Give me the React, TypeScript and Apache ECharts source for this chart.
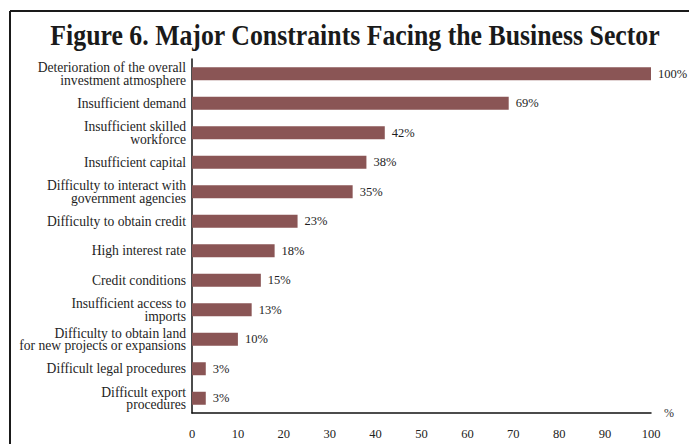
import React, { useEffect, useRef } from "react";
import * as echarts from "echarts";

const categories = [
  "Deterioration of the overall\ninvestment atmosphere",
  "Insufficient demand",
  "Insufficient skilled\nworkforce",
  "Insufficient capital",
  "Difficulty to interact with\ngovernment agencies",
  "Difficulty to obtain credit",
  "High interest rate",
  "Credit conditions",
  "Insufficient access to\nimports",
  "Difficulty to obtain land\nfor new projects or expansions",
  "Difficult legal procedures",
  "Difficult export\nprocedures",
];
const values = [100, 69, 42, 38, 35, 23, 18, 15, 13, 10, 3, 3];
const titleText = "Figure 6. Major Constraints Facing the Business Sector";
const axisName = "%";

const SERIF = "Liberation Serif";

export default function App() {
  const ref = useRef<HTMLDivElement>(null);
  useEffect(() => {
    if (!ref.current) return;
    const chart = echarts.init(ref.current, null, { renderer: "svg" });
    chart.setOption({
      animation: false,
      backgroundColor: "#ffffff",
      graphic: [
        {
          type: "line",
          shape: { x1: 10, y1: 11, x2: 689, y2: 11 },
          style: { stroke: "#1a1a1a", lineWidth: 2 },
        },
        {
          type: "line",
          shape: { x1: 10, y1: 11, x2: 10, y2: 444 },
          style: { stroke: "#1a1a1a", lineWidth: 2 },
        },
        {
          type: "text",
          x: 355,
          y: 35,
          scaleX: 0.86,
          style: {
            text: titleText,
            font: "bold 30px Liberation Serif",
            fill: "#1a1a1a",
            textAlign: "center",
            textVerticalAlign: "middle",
          },
        },
      ],
      grid: { left: 192, right: 38, top: 59, height: 354, containLabel: false },
      xAxis: {
        type: "value",
        min: 0,
        max: 100,
        interval: 10,
        name: axisName,
        nameLocation: "end",
        nameGap: 13,
        nameTextStyle: { fontFamily: SERIF, fontSize: 12, color: "#333" },
        axisLine: { show: true, lineStyle: { color: "#111", width: 1.5 } },
        axisTick: { show: false },
        splitLine: { show: false },
        axisLabel: { fontFamily: SERIF, fontSize: 12.5, color: "#222", margin: 14 },
      },
      yAxis: {
        type: "category",
        inverse: true,
        data: categories,
        axisLine: { show: true, lineStyle: { color: "#111", width: 1.5 } },
        axisTick: { show: false },
        axisLabel: {
          fontFamily: SERIF,
          fontSize: 13.6,
          lineHeight: 12.5,
          color: "#1e1e1e",
          margin: 6,
          align: "right",
        },
      },
      series: [
        {
          type: "bar",
          data: values,
          barWidth: 13,
          itemStyle: { color: "#8A5555" },
          label: {
            show: true,
            position: "right",
            distance: 7,
            formatter: "{c}%",
            fontFamily: SERIF,
            fontSize: 12.5,
            color: "#1e1e1e",
          },
        },
      ],
    });
    return () => chart.dispose();
  }, []);
  return (
    <div
      ref={ref}
      style={{ position: "fixed", left: 0, top: 0, width: 689, height: 444, background: "#fff" }}
    />
  );
}
